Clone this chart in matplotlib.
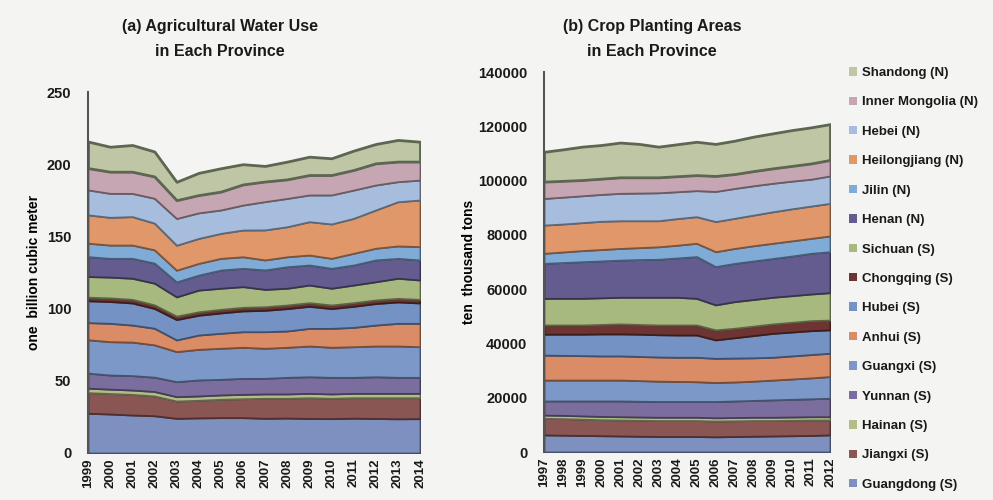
import matplotlib
matplotlib.use("Agg")
import matplotlib.pyplot as plt
import matplotlib.colors as mcolors
import numpy as np

plt.rcParams['font.family'] = ['Liberation Sans', 'DejaVu Sans']

years_water = list(range(1999, 2015))
years_crop = list(range(1997, 2013))

# stack order, bottom to top
provinces = ['Guangdong (S)', 'Jiangxi (S)', 'Hainan (S)', 'Yunnan (S)', 'Guangxi (S)',
             'Anhui (S)', 'Hubei (S)', 'Chongqing (S)', 'Sichuan (S)', 'Henan (N)',
             'Jilin (N)', 'Heilongjiang (N)', 'Hebei (N)', 'Inner Mongolia (N)', 'Shandong (N)']

# (a) agricultural water use, billion m3
guangdong_w = [27.5, 27.0, 26.3, 25.8, 24.0, 24.3, 24.5, 24.5, 24.0, 24.2, 23.9, 23.8, 24.1, 23.9, 23.7, 23.8]
jiangxi_w = [14.3, 14.2, 14.3, 13.7, 12.0, 12.2, 12.7, 13.1, 13.9, 13.7, 14.4, 14.1, 14.2, 14.4, 14.6, 14.5]
hainan_w = [3.1, 3.0, 3.0, 3.1, 3.0, 3.0, 3.0, 3.0, 3.0, 3.0, 3.0, 3.0, 3.0, 3.0, 3.0, 3.0]
yunnan_w = [10.4, 9.8, 10.0, 9.9, 10.4, 11.1, 10.8, 11.1, 10.8, 11.5, 11.5, 11.5, 11.1, 11.5, 11.1, 11.1]
guangxi_w = [23.1, 23.1, 23.2, 22.4, 20.8, 21.2, 21.5, 21.5, 20.8, 20.8, 21.3, 20.8, 21.2, 21.3, 21.7, 21.2]
anhui_w = [11.9, 12.7, 11.8, 11.5, 8.1, 9.9, 10.4, 10.8, 11.5, 11.3, 12.2, 13.1, 13.4, 14.5, 15.7, 16.2]
hubei_w = [15.1, 15.1, 15.3, 13.7, 14.1, 13.7, 14.1, 14.4, 14.8, 15.5, 15.3, 13.7, 14.6, 14.9, 14.8, 14.1]
chongqing_w = [2.5, 2.5, 2.5, 2.5, 2.4, 2.4, 2.5, 2.5, 2.5, 2.5, 2.5, 2.5, 2.5, 2.5, 2.5, 2.5]
sichuan_w = [14.3, 14.4, 14.6, 15.0, 13.3, 15.0, 14.6, 14.3, 12.0, 11.6, 12.2, 11.6, 12.2, 12.6, 13.9, 13.4]
henan_w = [13.8, 13.0, 13.8, 13.9, 10.4, 10.4, 12.6, 12.7, 13.5, 14.9, 13.9, 13.8, 13.9, 15.1, 13.8, 13.9]
jilin_w = [9.3, 9.2, 9.2, 9.2, 8.1, 8.1, 8.1, 8.0, 6.9, 6.9, 6.9, 6.9, 8.1, 8.1, 8.6, 9.2]
heilongjiang_w = [19.6, 19.2, 19.7, 18.5, 17.3, 17.3, 17.3, 18.5, 20.8, 20.8, 23.1, 23.8, 24.2, 26.5, 30.6, 32.3]
hebei_w = [17.3, 16.6, 16.1, 17.2, 18.5, 17.7, 16.2, 17.3, 19.6, 19.6, 18.5, 20.1, 19.6, 17.3, 13.9, 13.8]
inner_mongolia_w = [15.1, 15.0, 15.0, 15.1, 12.7, 12.3, 12.7, 14.3, 13.9, 13.2, 13.8, 13.8, 13.9, 15.0, 13.9, 12.8]
shandong_w = [18.4, 17.3, 18.5, 17.3, 12.7, 15.4, 16.2, 14.0, 10.8, 12.3, 12.7, 11.6, 13.4, 13.4, 15.0, 13.8]

# (b) crop planting areas
guangdong_c = [6300, 6200, 6100, 6000, 5900, 5800, 5700, 5700, 5700, 5600, 5700, 5800, 5900, 6000, 6100, 6300]
jiangxi_c = [6100, 6100, 6000, 5900, 5900, 5900, 5900, 5900, 5900, 5800, 5800, 5800, 5700, 5700, 5700, 5500]
hainan_c = [1200, 1200, 1200, 1200, 1200, 1200, 1200, 1200, 1200, 1200, 1200, 1200, 1200, 1200, 1200, 1200]
yunnan_c = [5200, 5300, 5500, 5700, 5800, 5800, 5800, 5800, 5800, 6000, 6100, 6200, 6400, 6500, 6600, 6800]
guangxi_c = [7700, 7700, 7700, 7700, 7700, 7600, 7500, 7400, 7300, 7000, 7000, 7100, 7300, 7500, 7700, 8000]
anhui_c = [9200, 9100, 9000, 8900, 8900, 8900, 8900, 8900, 9000, 8900, 8800, 8600, 8400, 8500, 8600, 8600]
hubei_c = [7700, 7800, 7900, 8100, 8100, 8200, 8200, 8200, 8200, 6800, 7500, 8200, 8800, 8800, 8800, 8600]
chongqing_c = [3400, 3400, 3400, 3500, 3700, 3600, 3600, 3700, 3700, 3700, 3500, 3500, 3500, 3600, 3700, 3600]
sichuan_c = [9800, 9800, 9800, 9800, 9800, 10000, 10200, 10200, 9800, 9200, 9800, 9800, 9800, 9800, 9800, 10100]
henan_c = [12900, 13200, 13500, 13600, 13700, 13900, 14000, 14500, 15400, 14100, 14100, 14200, 14300, 14600, 15000, 15100]
jilin_c = [3700, 3900, 4100, 4200, 4300, 4400, 4600, 4700, 4900, 5500, 5500, 5600, 5600, 5600, 5500, 5800]
heilongjiang_c = [10400, 10300, 10300, 10400, 10200, 9900, 9600, 9800, 9800, 11100, 11100, 11300, 11600, 11800, 11900, 12000]
hebei_c = [9800, 9900, 9900, 9900, 10100, 10200, 10300, 9900, 9600, 11100, 11000, 10800, 10500, 10200, 9900, 10100]
inner_mongolia_c = [6200, 6000, 5800, 5800, 5900, 5800, 5700, 5700, 5700, 5700, 5300, 5400, 5500, 5600, 5800, 5900]
shandong_c = [11000, 11600, 12300, 12400, 12800, 12300, 11300, 11800, 12300, 11800, 12300, 12700, 12900, 13200, 13300, 13200]

water = [guangdong_w, jiangxi_w, hainan_w, yunnan_w, guangxi_w, anhui_w, hubei_w, chongqing_w,
         sichuan_w, henan_w, jilin_w, heilongjiang_w, hebei_w, inner_mongolia_w, shandong_w]
crop = [guangdong_c, jiangxi_c, hainan_c, yunnan_c, guangxi_c, anhui_c, hubei_c, chongqing_c,
        sichuan_c, henan_c, jilin_c, heilongjiang_c, hebei_c, inner_mongolia_c, shandong_c]

colors = ['#7d90bf', '#8a5654', '#b3bd88', '#7b6e9e', '#7b98c8', '#d98c66', '#7592c4', '#6e3432',
          '#a8b97f', '#645c8e', '#80abd6', '#e0986b', '#a6bddd', '#c6a6b3', '#bec6a5']

bg = '#f4f4f2'
fig = plt.figure(figsize=(9.93, 5.0), dpi=100, facecolor=bg)


def draw(ax, years, series, ymax, step):
    polys = ax.stackplot(years, *series, colors=colors, labels=provinces)
    for p, c in zip(polys, colors):
        r, g, b = mcolors.to_rgb(c)
        p.set_edgecolor((r * 0.55, g * 0.55, b * 0.55))
        p.set_linewidth(1.3)
    polys[-1].set_edgecolor('#5c6650')
    polys[-1].set_linewidth(2.0)
    ax.set_facecolor(bg)
    ax.set_xlim(years[0], years[-1])
    ax.set_ylim(0, ymax)
    ax.set_yticks(np.arange(0, ymax + 1, step))
    ax.set_xticks(years)
    ax.set_xticklabels([str(y) for y in years], rotation=90, fontsize=9.5, fontweight='bold')
    for s in ['top', 'right', 'bottom']:
        ax.spines[s].set_visible(False)
    ax.spines['left'].set_color('#555555')
    ax.spines['left'].set_linewidth(1.5)
    ax.tick_params(axis='both', length=0, colors='#1a1a1a')
    ax.tick_params(axis='y', pad=12, labelsize=10.5)
    ax.tick_params(axis='x', pad=4)
    for t in ax.get_yticklabels():
        t.set_fontweight('bold')
    return polys


ax1 = fig.add_axes([88 / 993, 47 / 500, 332 / 993, 361 / 500])
draw(ax1, years_water, water, 250, 50)
ax1.set_ylabel('one  billion cubic meter', fontsize=10, fontweight='bold')
ax1.yaxis.set_label_coords((41 - 88) / 332, 0.5)

ax2 = fig.add_axes([544 / 993, 48 / 500, 286 / 993, 380 / 500])
polys = draw(ax2, years_crop, crop, 140000, 20000)
ax2.set_ylabel('ten  thousand tons', fontsize=10, fontweight='bold')
ax2.yaxis.set_label_coords((476 - 544) / 286, 0.5)

fig.text(220 / 993, 1 - 26 / 500, '(a) Agricultural Water Use', ha='center', va='center',
         fontsize=11.5, fontweight='bold', color='#1a1a1a')
fig.text(220 / 993, 1 - 51 / 500, 'in Each Province', ha='center', va='center',
         fontsize=11.5, fontweight='bold', color='#1a1a1a')
fig.text(652 / 993, 1 - 26 / 500, '(b) Crop Planting Areas', ha='center', va='center',
         fontsize=11.5, fontweight='bold', color='#1a1a1a')
fig.text(652 / 993, 1 - 51 / 500, 'in Each Province', ha='center', va='center',
         fontsize=11.5, fontweight='bold', color='#1a1a1a')

handles = polys[::-1]
labels = provinces[::-1]
leg = fig.legend(handles, labels, loc='upper left', bbox_to_anchor=(849 / 993, 1 - 67 / 500),
                 frameon=False, fontsize=9.5, labelspacing=1.32, handlelength=0.6, handleheight=0.6,
                 handletextpad=0.4, borderpad=0, borderaxespad=0)
for h in leg.legend_handles:
    h.set_linewidth(0)
for t in leg.get_texts():
    t.set_fontweight('bold')
    t.set_color('#1a1a1a')

fig.savefig('out.png', dpi=100, facecolor=bg)
